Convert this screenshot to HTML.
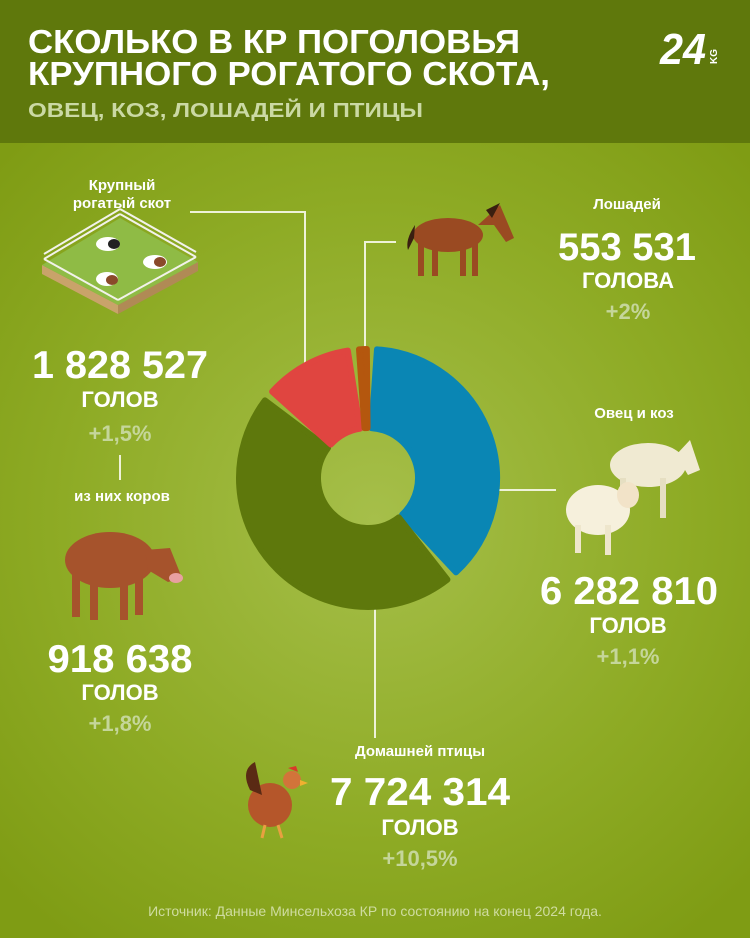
<!DOCTYPE html>
<html><head><meta charset="utf-8"><style>
html,body{margin:0;padding:0;width:750px;height:938px;overflow:hidden}
svg{display:block;font-family:"Liberation Sans",sans-serif;font-weight:bold}
</style></head><body>
<svg width="750" height="938" viewBox="0 0 750 938" xmlns="http://www.w3.org/2000/svg">
<defs>
<radialGradient id="bg" cx="375" cy="520" r="520" gradientUnits="userSpaceOnUse">
<stop offset="0" stop-color="#a6bf4a"/><stop offset="0.6" stop-color="#8eab25"/><stop offset="1" stop-color="#7f9c14"/>
</radialGradient>
</defs>
<rect width="750" height="938" fill="url(#bg)"/>
<rect width="750" height="143" fill="#5f780c"/>
<text x="28" y="53" font-size="33" fill="#fff" textLength="492" lengthAdjust="spacingAndGlyphs">СКОЛЬКО В КР ПОГОЛОВЬЯ</text>
<text x="28" y="85" font-size="33" fill="#fff" textLength="522" lengthAdjust="spacingAndGlyphs">КРУПНОГО РОГАТОГО СКОТА,</text>
<text x="28" y="117" font-size="20" fill="#cbd9a4" textLength="395" lengthAdjust="spacingAndGlyphs">ОВЕЦ, КОЗ, ЛОШАДЕЙ И ПТИЦЫ</text>
<text x="660" y="64" font-size="44" fill="#fff" font-style="italic" textLength="46" lengthAdjust="spacingAndGlyphs">24</text>
<text x="0" y="0" font-size="10" fill="#fff" transform="translate(717,64) rotate(-90)">KG</text>

<g stroke="#eef2d8" stroke-width="2" fill="none">
<path d="M190 212 H305 V372"/>
<path d="M365 350 V242 H396"/>
<path d="M490 490 H556"/>
<path d="M375 602 V738"/>
<path d="M120 455 V480"/>
</g>

<g id="donut"></g>

<g>
<polygon points="42,265 118,305 118,314 42,274" fill="#c9a36a"/>
<polygon points="118,305 198,262 198,271 118,314" fill="#b08a55"/>
<polygon points="120,218 198,262 118,305 42,265" fill="#8fbb45"/>
<g stroke="#f2f2ea" stroke-width="2" fill="none">
<path d="M120,214 L196,257 M120,214 L44,259 M44,259 L118,300 M118,300 L196,257"/>
<path d="M120,209 L196,252 M120,209 L44,254"/>
</g>
<g fill="#fff"><ellipse cx="108" cy="244" rx="12" ry="7"/><ellipse cx="155" cy="262" rx="12" ry="7"/><ellipse cx="107" cy="279" rx="11" ry="7"/></g>
<g fill="#222"><ellipse cx="114" cy="244" rx="6" ry="5"/></g>
<g fill="#8a4a2a"><ellipse cx="160" cy="262" rx="6" ry="5"/><ellipse cx="112" cy="280" rx="6" ry="5"/></g>
</g>

<g fill="#9a4a22">
<ellipse cx="448" cy="235" rx="35" ry="17"/>
<path d="M478 225 L500 205 L514 238 L506 242 L494 225 Z"/>
<rect x="418" y="240" width="6" height="36"/><rect x="432" y="242" width="6" height="34"/><rect x="460" y="242" width="6" height="34"/><rect x="472" y="240" width="6" height="36"/>
</g>
<path d="M415 225 Q405 240 408 250 L414 238 Z" fill="#3a1f10"/>
<path d="M486 210 L500 203 L492 218 Z" fill="#3a1f10"/>

<g>
<ellipse cx="648" cy="465" rx="38" ry="22" fill="#f0ead2"/>
<path d="M676 455 L690 440 L700 470 L688 475 Z" fill="#f0ead2"/>
<rect x="620" y="478" width="6" height="40" fill="#e6dfc2"/><rect x="660" y="478" width="6" height="40" fill="#e6dfc2"/>
<ellipse cx="598" cy="510" rx="32" ry="25" fill="#f6f0dc"/>
<ellipse cx="628" cy="495" rx="11" ry="13" fill="#f2e3c8"/>
<rect x="575" y="525" width="6" height="28" fill="#eee6cc"/><rect x="605" y="525" width="6" height="30" fill="#eee6cc"/>
</g>

<g fill="#a6532c">
<ellipse cx="110" cy="560" rx="45" ry="28"/>
<path d="M145 550 L170 548 L182 578 L168 582 L148 570 Z"/>
<rect x="72" y="575" width="8" height="42"/><rect x="90" y="580" width="8" height="40"/><rect x="120" y="580" width="8" height="40"/><rect x="135" y="575" width="8" height="40"/>
</g>
<ellipse cx="176" cy="578" rx="7" ry="5" fill="#e8a0a0"/>

<g>
<ellipse cx="270" cy="805" rx="22" ry="22" fill="#b5562a"/>
<path d="M250 790 Q240 770 255 762 L262 795 Z" fill="#5a2a14"/>
<circle cx="292" cy="780" r="9" fill="#d2743a"/>
<path d="M288 768 L296 766 L298 772 Z" fill="#d83a2a"/>
<path d="M300 780 L308 783 L300 786 Z" fill="#f0b030"/>
<path d="M265 825 L262 838 M278 825 L282 838" stroke="#e8a040" stroke-width="3"/>
</g>

<g fill="#fff" text-anchor="middle">
<text x="122" y="190" font-size="15">Крупный</text>
<text x="122" y="208" font-size="15">рогатый скот</text>
<text x="120" y="378" font-size="39" textLength="176" lengthAdjust="spacingAndGlyphs">1 828 527</text>
<text x="120" y="407" font-size="22">ГОЛОВ</text>
<text x="120" y="441" font-size="22" fill="#c5d69a">+1,5%</text>
<text x="122" y="501" font-size="15">из них коров</text>
<text x="120" y="672" font-size="39" textLength="145" lengthAdjust="spacingAndGlyphs">918 638</text>
<text x="120" y="700" font-size="22">ГОЛОВ</text>
<text x="120" y="731" font-size="22" fill="#c5d69a">+1,8%</text>

<text x="627" y="209" font-size="15">Лошадей</text>
<text x="627" y="260" font-size="39" textLength="138" lengthAdjust="spacingAndGlyphs">553 531</text>
<text x="628" y="288" font-size="22">ГОЛОВА</text>
<text x="628" y="319" font-size="22" fill="#c5d69a">+2%</text>

<text x="634" y="418" font-size="15">Овец и коз</text>
<text x="629" y="604" font-size="39" textLength="178" lengthAdjust="spacingAndGlyphs">6 282 810</text>
<text x="628" y="633" font-size="22">ГОЛОВ</text>
<text x="628" y="664" font-size="22" fill="#c5d69a">+1,1%</text>

<text x="420" y="756" font-size="15">Домашней птицы</text>
<text x="420" y="805" font-size="39" textLength="180" lengthAdjust="spacingAndGlyphs">7 724 314</text>
<text x="420" y="835" font-size="22">ГОЛОВ</text>
<text x="420" y="866" font-size="22" fill="#c5d69a">+10,5%</text>

<text x="375" y="916" font-size="14" font-weight="normal" fill="#cfdca0">Источник: Данные Минсельхоза КР по состоянию на конец 2024 года.</text>
</g>
</svg>
<script>
(function(){
var cx=368,cy=478,R=129,r=50,g=document.getElementById('donut');
function p(a,rad){var t=(a-90)*Math.PI/180;return [cx+rad*Math.cos(t),cy+rad*Math.sin(t)];}
function seg(a0,a1,col){
 var o0=p(a0,R),o1=p(a1,R),i1=p(a1,r),i0=p(a0,r),lg=(a1-a0)>180?1:0;
 var d='M'+o0+' A'+R+' '+R+' 0 '+lg+' 1 '+o1+' L'+i1+' A'+r+' '+r+' 0 '+lg+' 0 '+i0+' Z';
 var e=document.createElementNS('http://www.w3.org/2000/svg','path');
 e.setAttribute('d',d);e.setAttribute('fill',col);e.setAttribute('stroke',col);
 e.setAttribute('stroke-width','6');e.setAttribute('stroke-linejoin','round');g.appendChild(e);
}
seg(4,137,'#0a86b4');
seg(142,307,'#5e780c');
seg(312,351,'#e04540');
seg(356,359.5,'#b4570e');
})();
</script>
</body></html>
